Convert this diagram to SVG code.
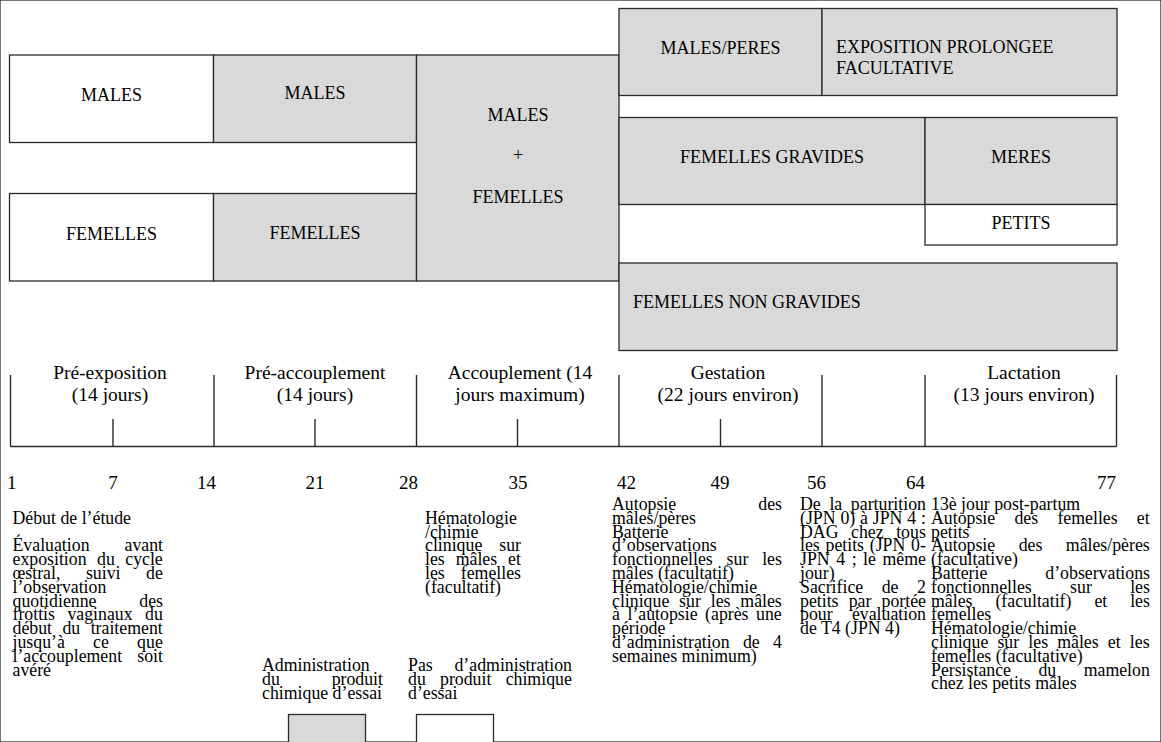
<svg xmlns="http://www.w3.org/2000/svg" width="1161" height="742" viewBox="0 0 1161 742" font-family="'Liberation Serif', 'Times New Roman', serif">
<style>
rect{stroke:#2a2a2a;stroke-width:1.3}
.g{fill:#d9d9d9}
.w{fill:#ffffff}
text{font-family:'Liberation Serif','Times New Roman',serif;fill:#000}
.lb{font-size:18px}
.ph{font-size:19.5px}
.nm{font-size:19px}
.t{font-size:17.8px}
.c{text-anchor:middle}
.e{text-anchor:end}
.ax{stroke:#2a2a2a;stroke-width:1.4;fill:none}
</style>
<rect width="1161" height="742" fill="#fff" stroke="none"/>

<g id="males-preexposition"><rect class="w" x="9.5" y="55" width="204" height="87.5"/><text class="lb c" x="111.5" y="101">MALES</text></g>
<g id="males-preaccouplement"><rect class="g" x="213.5" y="55" width="203" height="87.5"/><text class="lb c" x="315" y="99">MALES</text></g>
<g id="femelles-preexposition"><rect class="w" x="9.5" y="193.5" width="204" height="87.5"/><text class="lb c" x="111.5" y="240">FEMELLES</text></g>
<g id="femelles-preaccouplement"><rect class="g" x="213.5" y="193.5" width="203" height="87.5"/><text class="lb c" x="315" y="239">FEMELLES</text></g>
<g id="males-femelles"><rect class="g" x="416.5" y="55" width="202.5" height="226"/><text class="lb c" x="518" y="121">MALES</text><text class="lb c" x="518" y="161">+</text><text class="lb c" x="518" y="203">FEMELLES</text></g>
<g id="males-peres"><rect class="g" x="619" y="8.5" width="203" height="87"/><text class="lb c" x="720.5" y="54">MALES/PERES</text></g>
<g id="exposition-prolongee"><rect class="g" x="822" y="8.5" width="295" height="87"/><text class="lb" x="836" y="53">EXPOSITION PROLONGEE</text><text class="lb" x="836" y="74">FACULTATIVE</text></g>
<g id="femelles-gravides"><rect class="g" x="619" y="117.5" width="306" height="87"/><text class="lb c" x="772" y="163">FEMELLES GRAVIDES</text></g>
<g id="meres"><rect class="g" x="925" y="117.5" width="192" height="87"/><text class="lb c" x="1021" y="163">MERES</text></g>
<g id="petits"><rect class="w" x="925" y="204.5" width="192" height="40.5"/><text class="lb c" x="1021" y="229">PETITS</text></g>
<g id="femelles-non-gravides"><rect class="g" x="619" y="263" width="498" height="87.5"/><text class="lb" x="633" y="308">FEMELLES NON GRAVIDES</text></g>

<g id="timeline">
<path class="ax" d="M10.5 446.5H1116.5M10.5 375V446.5M214 375V446.5M416.5 375V446.5M619 375V446.5M822 375V446.5M925 375V446.5M1116.5 375V446.5M113 419V446.5M315 419V446.5M517.5 419V446.5M720.5 419V446.5"/>
</g>

<g id="phases">
<text class="ph c" x="110" y="378.5">Pré-exposition</text><text class="ph c" x="110" y="401">(14 jours)</text>
<text class="ph c" x="315" y="378.5">Pré-accouplement</text><text class="ph c" x="315" y="401">(14 jours)</text>
<text class="ph c" x="520" y="378.5">Accouplement (14</text><text class="ph c" x="520" y="401">jours maximum)</text>
<text class="ph c" x="728" y="378.5">Gestation</text><text class="ph c" x="728" y="401">(22 jours environ)</text>
<text class="ph c" x="1024" y="378.5">Lactation</text><text class="ph c" x="1024" y="401">(13 jours environ)</text>
</g>

<g id="days">
<text class="nm" x="7" y="489">1</text>
<text class="nm c" x="113" y="489">7</text>
<text class="nm e" x="216" y="489">14</text>
<text class="nm c" x="315" y="489">21</text>
<text class="nm e" x="418" y="489">28</text>
<text class="nm c" x="518" y="489">35</text>
<text class="nm" x="617" y="489">42</text>
<text class="nm c" x="720" y="489">49</text>
<text class="nm e" x="826" y="489">56</text>
<text class="nm e" x="925" y="489">64</text>
<text class="nm e" x="1116" y="489">77</text>
</g>

<g id="note-debut">
<text class="t" x="12.5" y="523.8">Début de l’étude</text>
<text class="t" x="12.5" y="551.4">Évaluation</text><text class="t e" x="163" y="551.4">avant</text>
<text class="t" x="12.5" y="565.2" word-spacing="6">exposition du cycle</text>
<text class="t" x="12.5" y="579" word-spacing="21.1">œstral, suivi de</text>
<text class="t" x="12.5" y="592.8">l’observation</text>
<text class="t" x="12.5" y="606.6">quotidienne</text><text class="t e" x="163" y="606.6">des</text>
<text class="t" x="12.5" y="620.4" word-spacing="8">frottis vaginaux du</text>
<text class="t" x="12.5" y="634.2" word-spacing="6">début du traitement</text>
<text class="t" x="12.5" y="648" word-spacing="23.8">jusqu’à ce que</text>
<text class="t" x="12.5" y="661.8">l’accouplement</text><text class="t e" x="163" y="661.8">soit</text>
<text class="t" x="12.5" y="675.6">avéré</text>
</g>

<g id="note-hemato-accouplement">
<text class="t" x="425" y="523.8">Hématologie</text>
<text class="t" x="425" y="537.6">/chimie</text>
<text class="t" x="425" y="551.4">clinique</text><text class="t e" x="521" y="551.4">sur</text>
<text class="t" x="425" y="565.2" word-spacing="6.5">les mâles et</text>
<text class="t" x="425" y="579">les</text><text class="t e" x="521" y="579">femelles</text>
<text class="t" x="425" y="592.8">(facultatif)</text>
</g>

<g id="legend-administration">
<text class="t" x="262" y="671">Administration</text>
<text class="t" x="262" y="684.8">du</text><text class="t e" x="383" y="684.8">produit</text>
<text class="t" x="262" y="698.6">chimique d’essai</text>
<rect class="g" x="288.5" y="714.5" width="77" height="40"/>
</g>
<g id="legend-sans-administration">
<text class="t" x="408" y="671">Pas</text><text class="t e" x="572" y="671">d’administration</text>
<text class="t" x="408" y="684.8" word-spacing="9.8">du produit chimique</text>
<text class="t" x="408" y="698.6">d’essai</text>
<rect class="w" x="416.5" y="714.5" width="77" height="40"/>
</g>

<g id="note-jour42">
<text class="t" x="612" y="510">Autopsie</text><text class="t e" x="782" y="510">des</text>
<text class="t" x="612" y="523.8">mâles/pères</text>
<text class="t" x="612" y="537.6">Batterie</text>
<text class="t" x="612" y="551.4">d’observations</text>
<text class="t" x="612" y="565.2" word-spacing="9.4">fonctionnelles sur les</text>
<text class="t" x="612" y="579">mâles (facultatif)</text>
<text class="t" x="612" y="592.8">Hématologie/chimie</text>
<text class="t" x="612" y="606.6" word-spacing="5.4">clinique sur les mâles</text>
<text class="t" x="612" y="620.4" word-spacing="3.1">à l’autopsie (après une</text>
<text class="t" x="612" y="634.2">période</text>
<text class="t" x="612" y="648" word-spacing="8.9">d’administration de 4</text>
<text class="t" x="612" y="661.8">semaines minimum)</text>
</g>

<g id="note-jour56">
<text class="t" x="800" y="510" word-spacing="4.2">De la parturition</text>
<text class="t" x="800" y="523.8" word-spacing="0.4">(JPN 0) à JPN 4 :</text>
<text class="t" x="800" y="537.6" word-spacing="8.1">DAG chez tous</text>
<text class="t" x="800" y="551.4" word-spacing="1.3">les petits (JPN 0-</text>
<text class="t" x="800" y="565.2" word-spacing="2.1">JPN 4 ; le même</text>
<text class="t" x="800" y="579">jour)</text>
<text class="t" x="800" y="592.8" word-spacing="14.1">Sacrifice de 2</text>
<text class="t" x="800" y="606.6" word-spacing="5.7">petits par portée</text>
<text class="t" x="800" y="620.4">pour</text><text class="t e" x="926" y="620.4">évaluation</text>
<text class="t" x="800" y="634.2">de T4 (JPN 4)</text>
</g>

<g id="note-jour77">
<text class="t" x="931" y="510">13è jour post-partum</text>
<text class="t" x="931" y="523.8" word-spacing="14.8">Autopsie des femelles et</text>
<text class="t" x="931" y="537.6">petits</text>
<text class="t" x="931" y="551.4" word-spacing="19">Autopsie des mâles/pères</text>
<text class="t" x="931" y="565.2">(facultative)</text>
<text class="t" x="931" y="579">Batterie</text><text class="t e" x="1150" y="579">d’observations</text>
<text class="t" x="931" y="592.8" word-spacing="33.9">fonctionnelles sur les</text>
<text class="t" x="931" y="606.6" word-spacing="18.5">mâles (facultatif) et les</text>
<text class="t" x="931" y="620.4">femelles</text>
<text class="t" x="931" y="634.2">Hématologie/chimie</text>
<text class="t" x="931" y="648" word-spacing="4.7">clinique sur les mâles et les</text>
<text class="t" x="931" y="661.8">femelles (facultative)</text>
<text class="t" x="931" y="675.6" word-spacing="23">Persistance du mamelon</text>
<text class="t" x="931" y="689.4">chez les petits mâles</text>
</g>
</svg>
